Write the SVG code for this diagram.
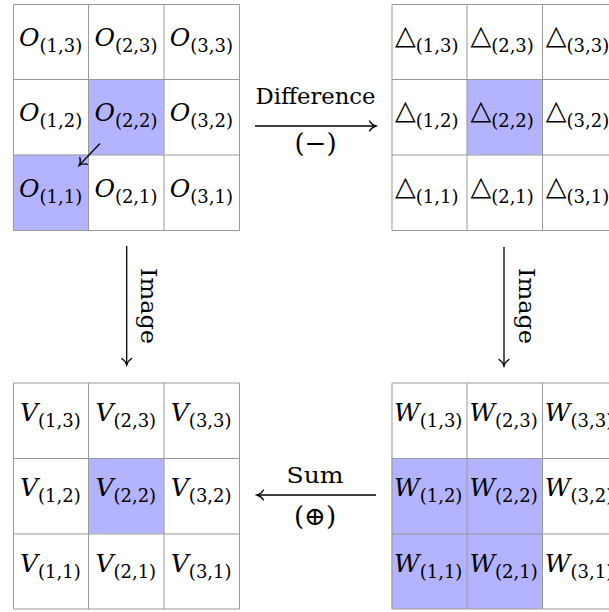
<svg xmlns="http://www.w3.org/2000/svg" width="609" height="612" viewBox="0 0 609 612">
<style>
.bg{fill:#ffffff}
.hl{fill:#b3b3ff}
.grid{fill:none;stroke:#999999;stroke-width:1}
.m{font-family:"DejaVu Serif","DejaVu Sans",serif;font-style:italic;font-size:25px;fill:#000}
.s{font-family:"DejaVu Serif","DejaVu Sans",serif;font-style:normal;font-size:18px}
.tri{font-family:"DejaVu Sans",sans-serif;font-style:normal;font-size:27px}
.lab{font-family:"DejaVu Serif","DejaVu Sans",serif;font-size:22px;fill:#000}
.op{font-family:"DejaVu Serif","DejaVu Sans",serif;font-size:26px;fill:#000}
.conn{fill:none;stroke:#000;stroke-width:1.3}
</style>
<defs>
<marker id="to" markerUnits="userSpaceOnUse" markerWidth="14" markerHeight="14" viewBox="-8 -7 10 14" refX="0" refY="0" orient="auto">
<path d="M -6.5,-5 C -4.5,-1.8 -1.5,-0.4 0,0 C -1.5,0.4 -4.5,1.8 -6.5,5" fill="none" stroke="#000" stroke-width="1.3" stroke-linecap="round"/>
</marker>
</defs>
<rect class="bg" x="0" y="0" width="609" height="612"/>

<g id="grid-O">
<rect class="hl" x="88.4" y="79.4" width="75.4" height="75.4"/>
<rect class="hl" x="13" y="154.8" width="75.4" height="75.4"/>
<path class="grid" d="M13.5,4.5H239.5M13.5,79.5H239.5M13.5,155H239.5M13.5,230.5H239.5M13.5,4.5V230.5M88.5,4.5V230.5M164,4.5V230.5M239.5,4.5V230.5"/>
<text class="m" x="19" y="46">O<tspan class="s" dy="6">(1,3)</tspan></text>
<text class="m" x="94.4" y="46">O<tspan class="s" dy="6">(2,3)</tspan></text>
<text class="m" x="169.8" y="46">O<tspan class="s" dy="6">(3,3)</tspan></text>
<text class="m" x="19" y="121.4">O<tspan class="s" dy="6">(1,2)</tspan></text>
<text class="m" x="94.4" y="121.4">O<tspan class="s" dy="6">(2,2)</tspan></text>
<text class="m" x="169.8" y="121.4">O<tspan class="s" dy="6">(3,2)</tspan></text>
<text class="m" x="19" y="196.8">O<tspan class="s" dy="6">(1,1)</tspan></text>
<text class="m" x="94.4" y="196.8">O<tspan class="s" dy="6">(2,1)</tspan></text>
<text class="m" x="169.8" y="196.8">O<tspan class="s" dy="6">(3,1)</tspan></text>
</g>

<g id="grid-delta">
<rect class="hl" x="466.9" y="79.4" width="75.4" height="75.4"/>
<path class="grid" d="M392,4.5H618M392,79.5H618M392,155H618M392,230.5H618M392,4.5V230.5M467,4.5V230.5M542.5,4.5V230.5"/>
<text class="m" x="395" y="44"><tspan class="tri">△</tspan><tspan class="s" dy="8">(1,3)</tspan></text>
<text class="m" x="470.4" y="44"><tspan class="tri">△</tspan><tspan class="s" dy="8">(2,3)</tspan></text>
<text class="m" x="545.8" y="44"><tspan class="tri">△</tspan><tspan class="s" dy="8">(3,3)</tspan></text>
<text class="m" x="395" y="119.4"><tspan class="tri">△</tspan><tspan class="s" dy="8">(1,2)</tspan></text>
<text class="m" x="470.4" y="119.4"><tspan class="tri">△</tspan><tspan class="s" dy="8">(2,2)</tspan></text>
<text class="m" x="545.8" y="119.4"><tspan class="tri">△</tspan><tspan class="s" dy="8">(3,2)</tspan></text>
<text class="m" x="395" y="194.8"><tspan class="tri">△</tspan><tspan class="s" dy="8">(1,1)</tspan></text>
<text class="m" x="470.4" y="194.8"><tspan class="tri">△</tspan><tspan class="s" dy="8">(2,1)</tspan></text>
<text class="m" x="545.8" y="194.8"><tspan class="tri">△</tspan><tspan class="s" dy="8">(3,1)</tspan></text>
</g>

<g id="grid-V">
<rect class="hl" x="88.4" y="458.1" width="75.4" height="75.4"/>
<path class="grid" d="M13.5,383H239.5M13.5,458.5H239.5M13.5,534H239.5M13.5,609H239.5M13.5,383V609M88.5,383V609M164,383V609M239.5,383V609"/>
<text class="m" x="20" y="421">V<tspan class="s" dy="6">(1,3)</tspan></text>
<text class="m" x="95.4" y="421">V<tspan class="s" dy="6">(2,3)</tspan></text>
<text class="m" x="170.8" y="421">V<tspan class="s" dy="6">(3,3)</tspan></text>
<text class="m" x="20" y="496.4">V<tspan class="s" dy="6">(1,2)</tspan></text>
<text class="m" x="95.4" y="496.4">V<tspan class="s" dy="6">(2,2)</tspan></text>
<text class="m" x="170.8" y="496.4">V<tspan class="s" dy="6">(3,2)</tspan></text>
<text class="m" x="20" y="571.8">V<tspan class="s" dy="6">(1,1)</tspan></text>
<text class="m" x="95.4" y="571.8">V<tspan class="s" dy="6">(2,1)</tspan></text>
<text class="m" x="170.8" y="571.8">V<tspan class="s" dy="6">(3,1)</tspan></text>
</g>

<g id="grid-W">
<rect class="hl" x="391.5" y="458.1" width="150.8" height="150.8"/>
<path class="grid" d="M392,383H618M392,458.5H618M392,534H618M392,609H618M392,383V609M467,383V609M542.5,383V609"/>
<text class="m" x="394" y="421">W<tspan class="s" dy="6">(1,3)</tspan></text>
<text class="m" x="469.4" y="421">W<tspan class="s" dy="6">(2,3)</tspan></text>
<text class="m" x="544.8" y="421">W<tspan class="s" dy="6">(3,3)</tspan></text>
<text class="m" x="394" y="496.4">W<tspan class="s" dy="6">(1,2)</tspan></text>
<text class="m" x="469.4" y="496.4">W<tspan class="s" dy="6">(2,2)</tspan></text>
<text class="m" x="544.8" y="496.4">W<tspan class="s" dy="6">(3,2)</tspan></text>
<text class="m" x="394" y="571.8">W<tspan class="s" dy="6">(1,1)</tspan></text>
<text class="m" x="469.4" y="571.8">W<tspan class="s" dy="6">(2,1)</tspan></text>
<text class="m" x="544.8" y="571.8">W<tspan class="s" dy="6">(3,1)</tspan></text>
</g>

<g id="connectors">
<line class="conn" x1="100" y1="143.5" x2="79" y2="165.5" marker-end="url(#to)"/>
<line class="conn" x1="255" y1="126" x2="376" y2="126" marker-end="url(#to)"/>
<line class="conn" x1="376" y1="495" x2="257" y2="495" marker-end="url(#to)"/>
<line class="conn" x1="126.7" y1="246" x2="126.7" y2="365" marker-end="url(#to)"/>
<line class="conn" x1="504" y1="247" x2="504" y2="366" marker-end="url(#to)"/>
<text class="lab" x="315.5" y="104" text-anchor="middle" textLength="120" lengthAdjust="spacingAndGlyphs">Difference</text>
<text class="op" x="315.5" y="152" text-anchor="middle">(−)</text>
<text class="lab" x="315" y="483" text-anchor="middle" textLength="57" lengthAdjust="spacingAndGlyphs">Sum</text>
<text class="op" x="315" y="525" text-anchor="middle">(⊕)</text>
<text class="lab" transform="translate(141,306) rotate(90)" text-anchor="middle" textLength="76" lengthAdjust="spacingAndGlyphs">Image</text>
<text class="lab" transform="translate(518.5,306) rotate(90)" text-anchor="middle" textLength="76" lengthAdjust="spacingAndGlyphs">Image</text>
</g>
</svg>
